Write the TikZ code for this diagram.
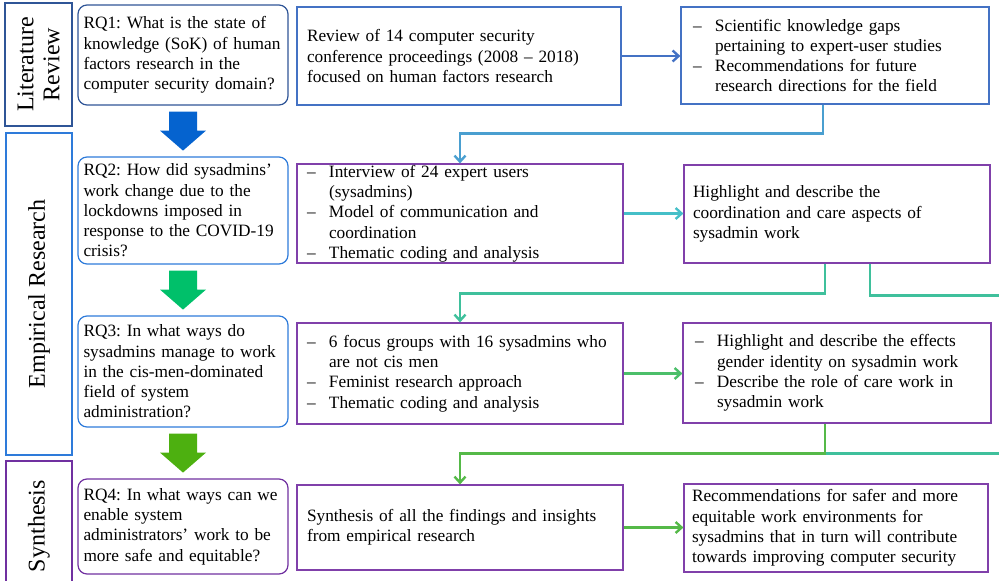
\documentclass[tikz,border=0pt]{standalone}
\usepackage{fontspec}
\setmainfont{Liberation Serif}
\usepackage{tikz}
\usetikzlibrary{positioning,arrows.meta}

\definecolor{litblue}{HTML}{2F5597}
\definecolor{empblue}{HTML}{2E7BDA}
\definecolor{synpurple}{HTML}{7030A0}
\definecolor{boxblue}{HTML}{4472C4}
\definecolor{boxpurple}{HTML}{8040AA}
\definecolor{arrblue}{HTML}{0563CF}
\definecolor{arrgreen}{HTML}{00C06A}
\definecolor{arrlime}{HTML}{4DB010}
\definecolor{lineblue}{HTML}{4A9FD0}
\definecolor{lineteal}{HTML}{45BFC8}
\definecolor{linemint}{HTML}{3FC09C}
\definecolor{linegreen}{HTML}{4CBF6A}
\definecolor{linelime}{HTML}{55B948}

\frenchspacing
\newcommand{\dashln}{\makebox[22pt][l]{--}}
\newcommand{\indln}{\hspace*{22pt}}
\newcommand{\boxfont}{\fontsize{17.3}{20.3}\selectfont\hyphenpenalty=10000}
% block arrow under a research question
\newcommand{\downarr}[2]{\fill[#1] ([xshift=-14pt,yshift=-6pt]#2.south) -- ++(28,0) -- ++(0,19) -- ++(9,0) -- ++(-23,20) -- ++(-23,-20) -- ++(9,0) -- cycle;}

\begin{document}
\begin{tikzpicture}[x=1pt,y=-1pt,
	secbox/.style={draw, line width=1.3pt, rotate=90, align=center, inner sep=0pt, font=\fontsize{24}{26}\selectfont},
	rqbox/.style={draw, line width=1.2pt, rounded corners=9pt, minimum width=210pt, text width=199pt, inner xsep=5.5pt, inner ysep=4pt, align=left, font=\boxfont},
	infobox/.style={draw, line width=1.2pt, inner sep=0pt, align=left, font=\boxfont},
	conn/.style={line width=2.4pt, -{Straight Barb[length=6pt,width=11pt]}},
	plain/.style={line width=2.4pt}
]
				\clip (0,0) rectangle (999,581);
				% section labels
				\node[secbox, draw=litblue, minimum width=123pt, minimum height=67pt] (lit) at (38.5,64.5) {Literature\\Review};
				\node[secbox, draw=empblue, minimum width=322pt, minimum height=66pt] (emp) at (39,294) {Empirical Research};
				\node[secbox, draw=synpurple, minimum width=130pt, minimum height=66pt] (syn) at (39,526) {Synthesis};
				% research questions
				\node[rqbox, draw=litblue, minimum height=100pt] (rq1) at (183,55) {RQ1: What is the state of\\knowledge (SoK) of human\\factors research in the\\computer security domain?};
				\node[rqbox, draw=empblue, minimum height=107pt] (rq2) at (183,210.5) {RQ2: How did sysadmins’\\work change due to the\\lockdowns imposed in\\response to the COVID-19\\crisis?};
				\node[rqbox, draw=empblue, minimum height=111pt] (rq3) at (183,371.5) {RQ3: In what ways do\\sysadmins manage to work\\in the cis-men-dominated\\field of system\\administration?};
				\node[rqbox, draw=synpurple, minimum height=95pt] (rq4) at (183,526.5) {RQ4: In what ways can we\\enable system\\administrators’ work to be\\more safe and equitable?};
				\downarr{arrblue}{rq1}
				\downarr{arrgreen}{rq2}
				\downarr{arrlime}{rq3}
				% methods
				\node[infobox, draw=boxblue, minimum width=324pt, minimum height=98pt, text width=304pt] (m1) at (459,56) {Review of 14 computer security\\conference proceedings (2008 – 2018)\\focused on human factors research};
				\node[infobox, draw=boxpurple, minimum width=326pt, minimum height=99pt, text width=306pt] (m2) at (460,213.5) {\dashln Interview of 24 expert users\\\indln (sysadmins)\\\dashln Model of communication and\\\indln coordination\\\dashln Thematic coding and analysis};
				\node[infobox, draw=boxpurple, minimum width=326pt, minimum height=101pt, text width=306pt] (m3) at (460,373.5) {\dashln 6 focus groups with 16 sysadmins who\\\indln are not cis men\\\dashln Feminist research approach\\\dashln Thematic coding and analysis};
				\node[infobox, draw=boxpurple, minimum width=326pt, minimum height=85pt, text width=306pt] (m4) at (460,527.5) {Synthesis of all the findings and insights\\from empirical research};
				% outcomes
				\node[infobox, draw=boxblue, minimum width=308pt, minimum height=97pt, text width=284pt] (r1) at (835,55.5) {\dashln Scientific knowledge gaps\\\indln pertaining to expert-user studies\\\dashln Recommendations for future\\\indln research directions for the field};
				\node[infobox, draw=boxpurple, minimum width=306pt, minimum height=98pt, text width=288pt] (r2) at (837,214) {Highlight and describe the\\coordination and care aspects of\\sysadmin work};
				\node[infobox, draw=boxpurple, minimum width=308pt, minimum height=100pt, text width=284pt] (r3) at (837,373) {\dashln Highlight and describe the effects\\\indln gender identity on sysadmin work\\\dashln Describe the role of care work in\\\indln sysadmin work};
				\node[infobox, draw=boxpurple, minimum width=304pt, minimum height=88pt, text width=288pt] (r4) at (836,528) {Recommendations for safer and more\\equitable work environments for\\sysadmins that in turn will contribute\\towards improving computer security};
				% connectors
				\coordinate (j3) at ([xshift=-12pt,yshift=-30pt]r3.south);
				\draw[conn, boxblue] (m1.east) -- (m1.east -| r1.west);
				\draw[conn, lineblue] ([xshift=-12pt]r1.south) -- ++(0,29) -| (m2.north);
				\draw[conn, lineteal] (m2.east) -- (m2.east -| r2.west);
				\draw[conn, linemint] ([xshift=-12pt]r2.south) -- ++(0,30) -| (m3.north);
				\draw[plain, linemint] ([xshift=33pt]r2.south) -- ++(0,32) -- ++(160,0) |- (j3);
				\draw[conn, linegreen] (m3.east) -- (m3.east -| r3.west);
				\draw[conn, linelime] ([xshift=-12pt]r3.south) -- (j3) -| (m4.north);
				\draw[conn, linelime] (m4.east) -- (m4.east -| r4.west);
\end{tikzpicture}
\end{document}
